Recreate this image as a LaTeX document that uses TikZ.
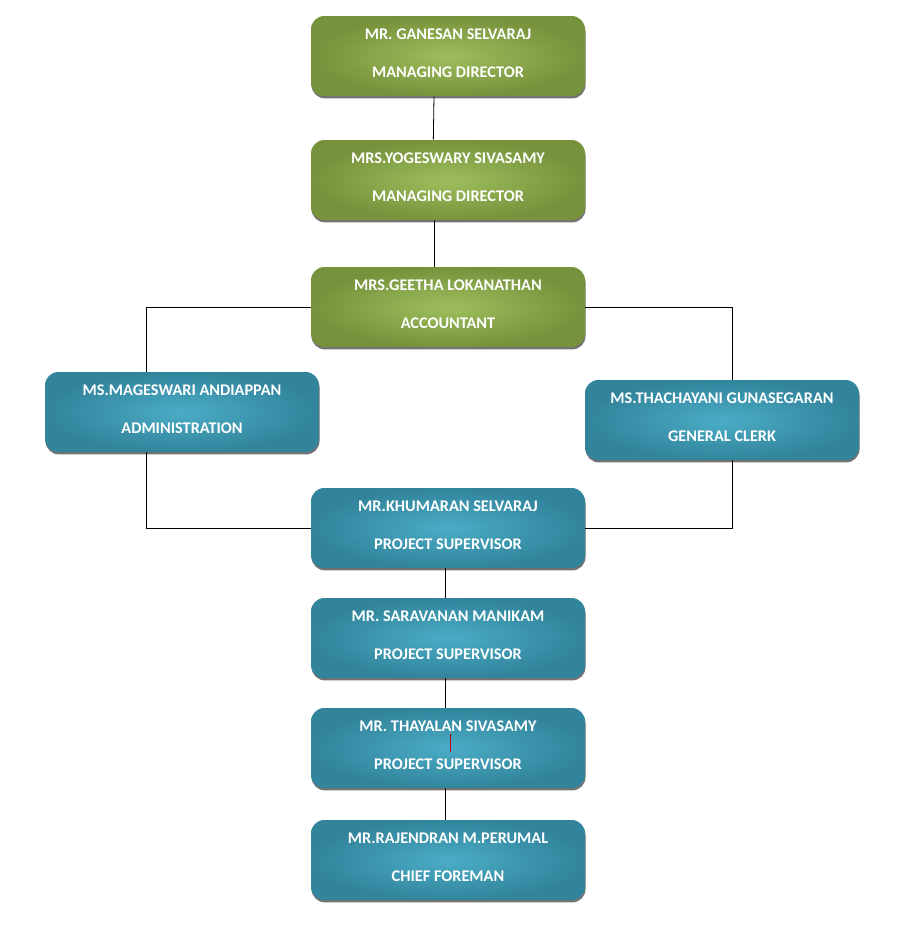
\documentclass[tikz,border=0pt]{standalone}
\usepackage{fontspec}
\setmainfont{Carlito}
\usepackage{tikz}
\usetikzlibrary{shadows}
\definecolor{oliveout}{HTML}{76923C}
\definecolor{olivein}{HTML}{9EBE5C}
\definecolor{tealout}{HTML}{31849B}
\definecolor{tealin}{HTML}{4BACC6}
\tikzstyle{edge} = [draw,line width=0.6pt]
\tikzstyle{orgbox} = [rounded corners=10pt,minimum width=205.5pt,minimum height=60pt,
  align=center,text=white,font=\fontsize{12.2}{28.5}\selectfont\bfseries,
  drop shadow={shadow xshift=0.4pt,shadow yshift=-1.8pt,fill=black,opacity=0.55}]
\tikzstyle{green} = [orgbox,shading=radial,inner color=olivein,outer color=oliveout]
\tikzstyle{teal} = [orgbox,shading=radial,inner color=tealin,outer color=tealout]
\newcommand{\who}[2]{#1\\#2\rule[-4.5pt]{0pt}{0pt}}

\begin{document}
\begin{tikzpicture}[x=0.75pt,y=-0.75pt]
    \useasboundingbox (0,0) rectangle (898,939);

    \node[green] (ganesan) at (448,56) {\who{MR. GANESAN SELVARAJ}{MANAGING DIRECTOR}};
    \node[green] (yogeswary) at (448,180) {\who{MRS.YOGESWARY SIVASAMY}{MANAGING DIRECTOR}};
    \node[green] (geetha) at (448,307) {\who{MRS.GEETHA LOKANATHAN}{ACCOUNTANT}};
    \node[teal] (mageswari) at (182,412) {\who{MS.MAGESWARI ANDIAPPAN}{ADMINISTRATION}};
    \node[teal] (thachayani) at (722,420) {\who{MS.THACHAYANI GUNASEGARAN}{GENERAL CLERK}};
    \node[teal] (khumaran) at (448,528) {\who{MR.KHUMARAN SELVARAJ}{PROJECT SUPERVISOR}};
    \node[teal] (saravanan) at (448,638) {\who{MR. SARAVANAN MANIKAM}{PROJECT SUPERVISOR}};
    \node[teal] (thayalan) at (448,748) {\who{MR. THAYALAN SIVASAMY}{PROJECT SUPERVISOR}};
    \node[teal] (rajendran) at (448,860) {\who{MR.RAJENDRAN M.PERUMAL}{CHIEF FOREMAN}};

    \draw[edge] ([xshift=-10.5pt]ganesan.south) -- ([xshift=-11pt]yogeswary.north);
    \draw[edge] ([xshift=-10.5pt]yogeswary.south) -- ([xshift=-10.5pt]geetha.north);
    \draw[edge] (geetha.west) -| ([xshift=-27pt]mageswari.north);
    \draw[edge] (geetha.east) -| ([xshift=7.5pt]thachayani.north);
    \draw[edge] ([xshift=-27pt]mageswari.south) |- (khumaran.west);
    \draw[edge] ([xshift=7.5pt]thachayani.south) |- (khumaran.east);
    \draw[edge] ([xshift=-2.25pt]khumaran.south) -- ([xshift=-2.25pt]saravanan.north);
    \draw[edge] ([xshift=-2.25pt]saravanan.south) -- ([xshift=-2.25pt]thayalan.north);
    \draw[edge] ([xshift=-2.25pt]thayalan.south) -- ([xshift=-2.25pt]rajendran.north);

    \draw[red!75!black,line width=0.6pt] (450,734) -- (450,752);
\end{tikzpicture}
\end{document}
